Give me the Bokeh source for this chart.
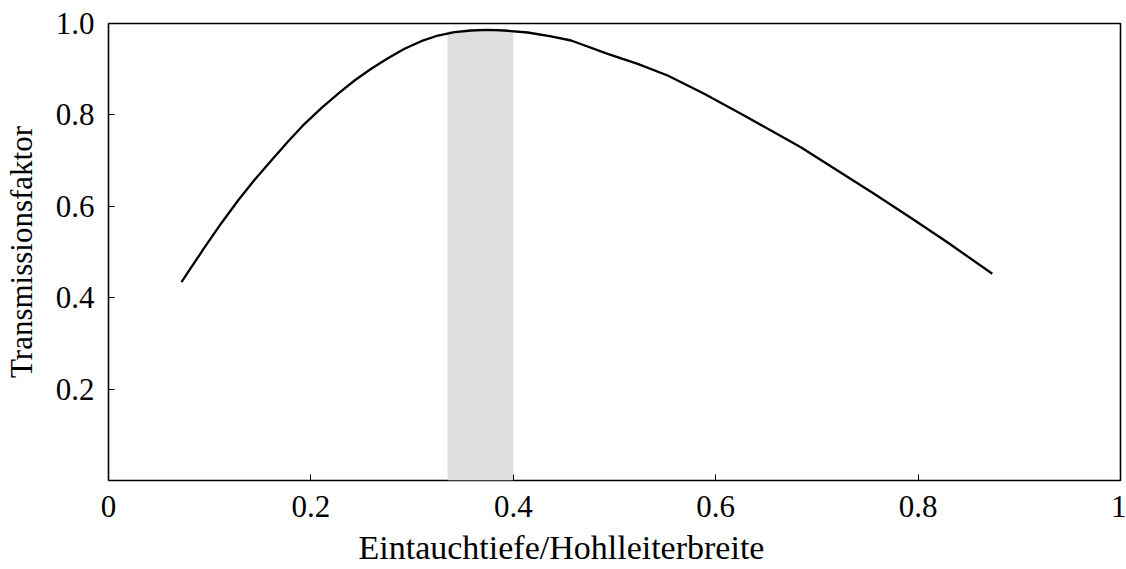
from bokeh.plotting import figure
from bokeh.models import FixedTicker, Range1d, Title, LinearAxis
from bokeh.embed import file_html
from bokeh.resources import INLINE

# --- data ---
x_depth = [0.0721, 0.0819, 0.0951, 0.1115, 0.128, 0.1444, 0.1609, 0.1774, 0.1938,
           0.2103, 0.2267, 0.2431, 0.2596, 0.2761, 0.2925, 0.3090, 0.3255, 0.3419,
           0.3583, 0.3748, 0.3912, 0.4143, 0.4373, 0.4571, 0.4933, 0.5229, 0.5525,
           0.5886, 0.6249, 0.6577, 0.6841, 0.7203, 0.7565, 0.7927, 0.8289, 0.8733]
y_trans = [0.434, 0.4667, 0.5105, 0.5630, 0.6127, 0.6579, 0.7002, 0.7418, 0.7805,
           0.8147, 0.8462, 0.8753, 0.9009, 0.9241, 0.9446, 0.9613, 0.9737, 0.9810,
           0.9847, 0.9862, 0.9847, 0.9803, 0.9716, 0.9628, 0.9337, 0.9118, 0.8862,
           0.8462, 0.8024, 0.7622, 0.7293, 0.6783, 0.6273, 0.5748, 0.5214, 0.4523]
band_left = [0.335]
band_right = [0.40]
band_bottom = [0.0]
band_top = [0.983]

x_ticks = [0, 0.2, 0.4, 0.6, 0.8, 1]
x_tick_labels = ["0", "0.2", "0.4", "0.6", "0.8", "1"]
y_ticks = [0.2, 0.4, 0.6, 0.8, 1.0]
y_tick_labels = ["0.2", "0.4", "0.6", "0.8", "1.0"]

FONT = "'Liberation Serif', 'Times New Roman', Times, serif"

p = figure(width=1126, height=569, output_backend="svg", toolbar_location=None,
           x_range=Range1d(0, 1), y_range=Range1d(0, 1),
           min_border_left=107, min_border_right=6, min_border_top=23, min_border_bottom=89)

p.quad(left=band_left, right=band_right, bottom=band_bottom, top=band_top,
       fill_color="#dedede", line_color=None)
p.line(x_depth, y_trans, line_color="black", line_width=2.3, line_join="round")

p.grid.visible = False
p.outline_line_color = "black"
p.outline_line_width = 1.6
p.outline_line_alpha = 1.0

p.xaxis.ticker = FixedTicker(ticks=x_ticks)
p.xaxis.major_label_overrides = {t: l for t, l in zip(x_ticks, x_tick_labels)}
p.yaxis.ticker = FixedTicker(ticks=y_ticks)
p.yaxis.major_label_overrides = {t: l for t, l in zip(y_ticks, y_tick_labels)}

for ax in (p.xaxis[0], p.yaxis[0]):
    ax.axis_line_color = None
    ax.major_tick_in = 6
    ax.major_tick_out = 0
    ax.major_tick_line_color = "black"
    ax.major_tick_line_width = 1
    ax.minor_tick_line_color = None
    ax.major_label_text_font = FONT
    ax.major_label_text_font_size = "31px"
    ax.major_label_text_color = "black"
    ax.axis_label_text_font = FONT
    ax.axis_label_text_font_size = "31px"
    ax.axis_label_text_font_style = "normal"
    ax.axis_label_text_color = "black"

p.yaxis.axis_label = "Transmissionsfaktor"
p.xaxis.major_label_standoff = 15
p.yaxis.major_label_standoff = 14
p.yaxis.axis_label_standoff = 14

# invisible spacer between the tick labels and the x label
spacer = LinearAxis(ticker=FixedTicker(ticks=[0.5]), axis_line_color=None,
                    major_tick_in=0, major_tick_out=7, major_tick_line_color=None,
                    minor_tick_line_color=None, major_label_standoff=0,
                    major_label_overrides={0.5: " "},
                    major_label_text_font_size="1px", major_label_text_alpha=0)
p.add_layout(spacer, "below")

xlabel = Title(text="Eintauchtiefe/Hohlleiterbreite", align="left", offset=250,
               text_font=FONT, text_font_size="34px", text_font_style="normal",
               text_color="black", standoff=0)
p.add_layout(xlabel, "below")

open("out.html", "w").write(file_html(p, INLINE))
